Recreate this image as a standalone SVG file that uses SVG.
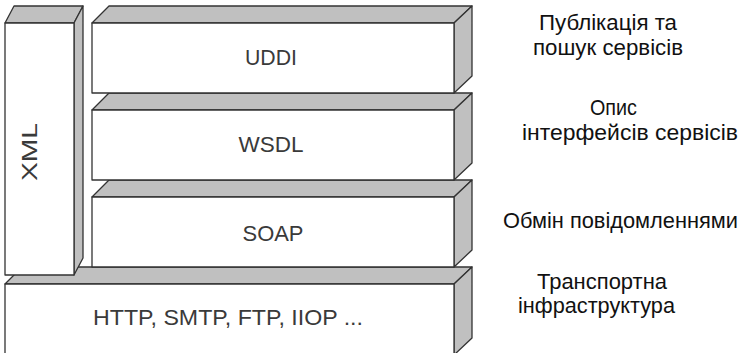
<svg xmlns="http://www.w3.org/2000/svg" width="746" height="353" viewBox="0 0 746 353">
  <style>
    .front { fill: #ffffff; stroke: #333333; stroke-width: 1.3; stroke-linejoin: round; }
    .shade { fill: #c0c0c0; stroke: #333333; stroke-width: 1.3; stroke-linejoin: round; }
    .lbl { font-family: "Liberation Sans", Arial, sans-serif; font-size: 22px; fill: #3a3a3a; text-anchor: middle; }
    .note { font-family: "Liberation Sans", Arial, sans-serif; font-size: 22px; fill: #111111; }
  </style>
  <rect width="746" height="353" fill="#ffffff"/>

  <!-- transport layer (bottom slab) -->
  <g id="transport">
    <polygon class="shade" points="5,284 22,267 472,267 454,284"/>
    <polygon class="shade" points="454,284 472,267 472,338 454,355"/>
    <rect class="front" x="5" y="284" width="449" height="75"/>
    <text class="lbl" x="228" y="325" textLength="270" lengthAdjust="spacingAndGlyphs">HTTP, SMTP, FTP, IIOP ...</text>
  </g>

  <!-- XML column -->
  <g id="xml">
    <polygon class="shade" points="5,23 14,6 83,6 74,23"/>
    <polygon class="shade" points="74,23 83,6 83,258 74,275"/>
    <rect class="front" x="5" y="23" width="69" height="252"/>
    <text class="lbl" transform="translate(37,152) rotate(-90)" textLength="58" lengthAdjust="spacingAndGlyphs">XML</text>
  </g>

  <!-- SOAP layer -->
  <g id="soap">
    <polygon class="shade" points="92,197 109,180 472,180 454,197"/>
    <polygon class="shade" points="454,197 472,180 472,250 454,267"/>
    <rect class="front" x="92" y="197" width="362" height="70"/>
    <text class="lbl" x="273" y="241" textLength="61" lengthAdjust="spacingAndGlyphs">SOAP</text>
  </g>

  <!-- WSDL layer -->
  <g id="wsdl">
    <polygon class="shade" points="92,110 109,93 472,93 454,110"/>
    <polygon class="shade" points="454,110 472,93 472,163 454,180"/>
    <rect class="front" x="92" y="110" width="362" height="70"/>
    <text class="lbl" x="271" y="152" textLength="65" lengthAdjust="spacingAndGlyphs">WSDL</text>
  </g>

  <!-- UDDI layer -->
  <g id="uddi">
    <polygon class="shade" points="92,23 109,6 472,6 454,23"/>
    <polygon class="shade" points="454,23 472,6 472,76 454,93"/>
    <rect class="front" x="92" y="23" width="362" height="70"/>
    <text class="lbl" x="271" y="65" textLength="52" lengthAdjust="spacingAndGlyphs">UDDI</text>
  </g>

  <!-- layer descriptions -->
  <g id="notes">
    <text class="note" x="539" y="30" textLength="138" lengthAdjust="spacingAndGlyphs">Публікація та</text>
    <text class="note" x="533" y="55" textLength="150" lengthAdjust="spacingAndGlyphs">пошук сервісів</text>
    <text class="note" x="590" y="115" textLength="47" lengthAdjust="spacingAndGlyphs">Опис</text>
    <text class="note" x="522" y="140" textLength="216" lengthAdjust="spacingAndGlyphs">інтерфейсів сервісів</text>
    <text class="note" x="503" y="228" textLength="235" lengthAdjust="spacingAndGlyphs">Обмін повідомленнями</text>
    <text class="note" x="537" y="289" textLength="130" lengthAdjust="spacingAndGlyphs">Транспортна</text>
    <text class="note" x="518" y="313" textLength="157" lengthAdjust="spacingAndGlyphs">інфраструктура</text>
  </g>
</svg>
